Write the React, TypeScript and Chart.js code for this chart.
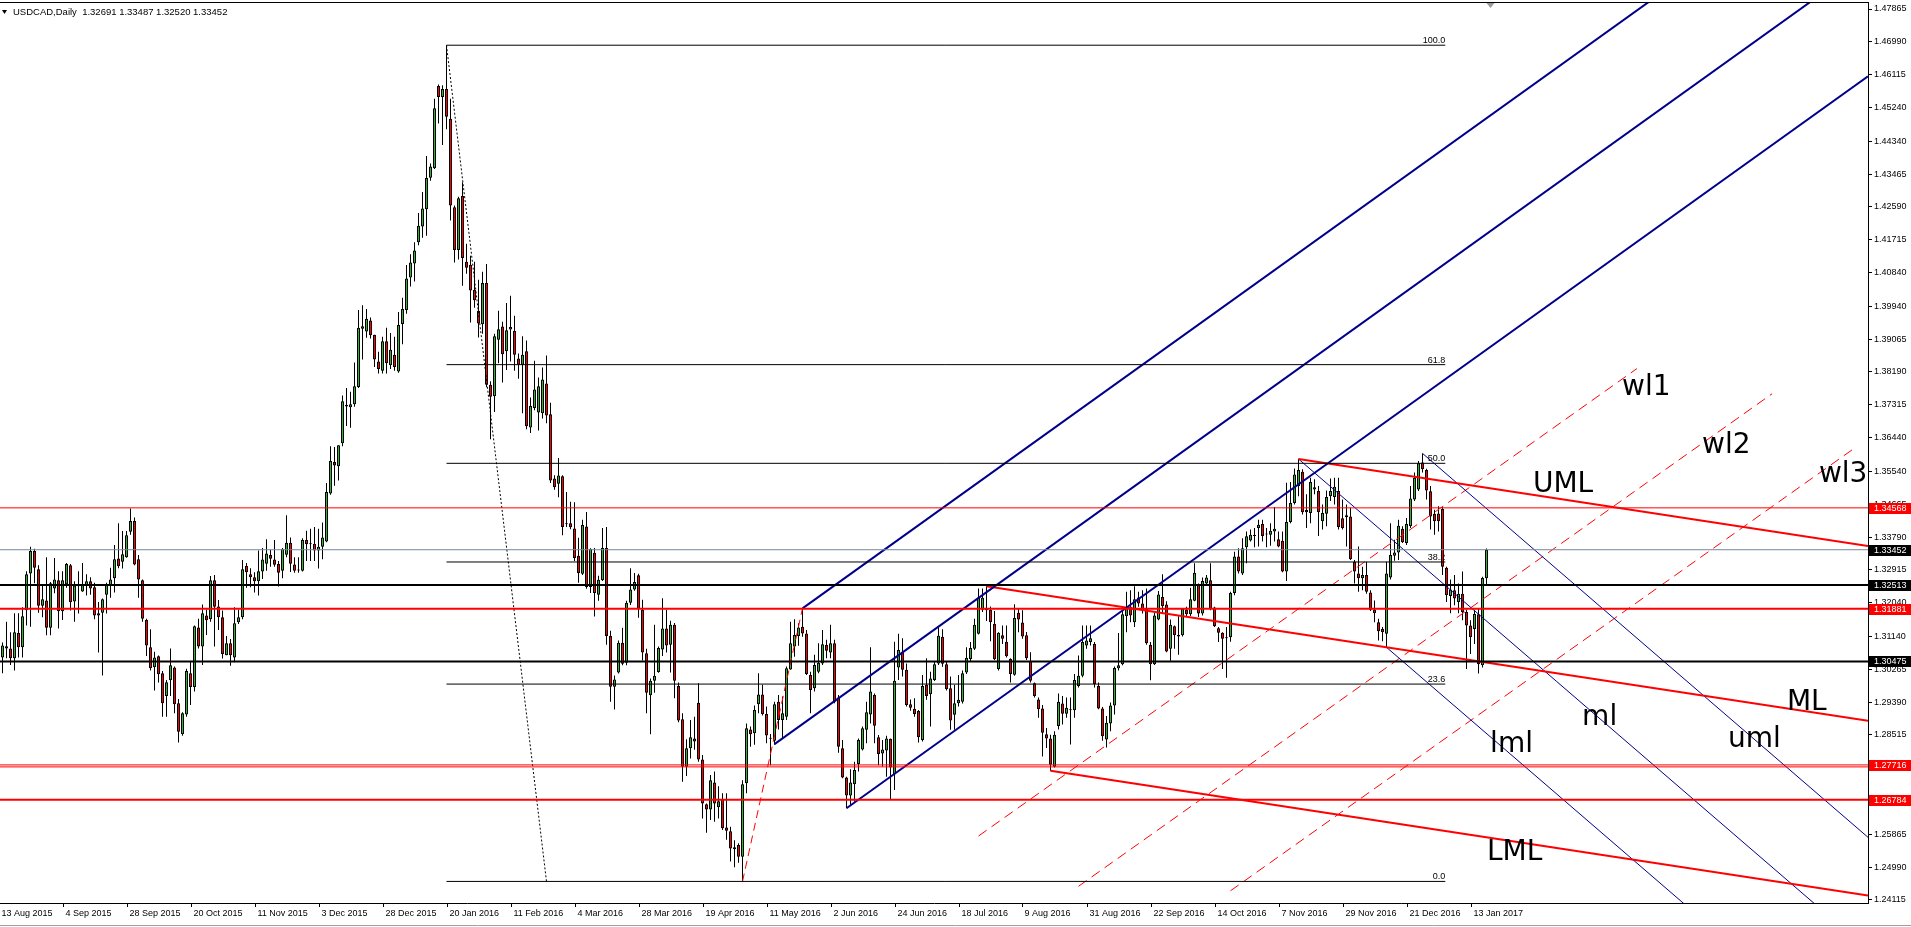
import React, { useEffect, useRef } from 'react';
import { Chart, registerables } from 'chart.js';

Chart.register(...registerables);

// header line of the MT4 window
const TITLE = 'USDCAD,Daily  1.32691 1.33487 1.32520 1.33452';

// time axis: one label every 16 bars, the first one sits one bar left of bar 0
const DATE_TICKS = [
  '13 Aug 2015', '4 Sep 2015', '28 Sep 2015', '20 Oct 2015', '11 Nov 2015', '3 Dec 2015',
  '28 Dec 2015', '20 Jan 2016', '11 Feb 2016', '4 Mar 2016', '28 Mar 2016', '19 Apr 2016',
  '11 May 2016', '2 Jun 2016', '24 Jun 2016', '18 Jul 2016', '9 Aug 2016', '31 Aug 2016',
  '22 Sep 2016', '14 Oct 2016', '7 Nov 2016', '29 Nov 2016', '21 Dec 2016', '13 Jan 2017',
];
const FIRST_TICK_BAR = -1;
const TICK_EVERY = 16;

const PRICE_TICKS = [
  1.24115, 1.24990, 1.25865, 1.26765, 1.27640, 1.28515, 1.29390, 1.30265, 1.31140, 1.32040,
  1.32915, 1.33790, 1.34665, 1.35540, 1.36440, 1.37315, 1.38190, 1.39065, 1.39940, 1.40840,
  1.41715, 1.42590, 1.43465, 1.44340, 1.45240, 1.46115, 1.46990, 1.47865,
];

// daily candles, bar 0 = 14 Aug 2015, last bar = 19 Jan 2017
const OPEN = [
  1.3058, 1.3088, 1.3082, 1.3056, 1.3123, 1.3085, 1.3184, 1.3282, 1.3342, 1.3293,
  1.3196, 1.3210, 1.3137, 1.3242, 1.3264, 1.3181, 1.3253, 1.3304, 1.3207, 1.3248,
  1.3234, 1.3250, 1.3261, 1.3245, 1.3170, 1.3177, 1.3225, 1.3250, 1.3269, 1.3322,
  1.3313, 1.3325, 1.3393, 1.3422, 1.3320, 1.3264, 1.3158, 1.3085, 1.3032, 1.3061,
  1.3016, 1.2955, 1.2997, 1.3031, 1.2936, 1.2853, 1.2906, 1.3016, 1.2979, 1.3138,
  1.3087, 1.3170, 1.3160, 1.3264, 1.3194, 1.3165, 1.3064, 1.3096, 1.3058, 1.3152,
  1.3165, 1.3302, 1.3280, 1.3272, 1.3261, 1.3287, 1.3308, 1.3331, 1.3319, 1.3307,
  1.3289, 1.3332, 1.3364, 1.3306, 1.3290, 1.3289, 1.3371, 1.3361, 1.3361, 1.3343,
  1.3353, 1.3367, 1.3495, 1.3579, 1.3568, 1.3629, 1.3731, 1.3725, 1.3733, 1.3779,
  1.3934, 1.3927, 1.3956, 1.3918, 1.3847, 1.3822, 1.3901, 1.3837, 1.3865, 1.3820,
  1.3947, 1.3984, 1.4071, 1.4108, 1.4165, 1.4207, 1.4253, 1.4337, 1.4362, 1.4581,
  1.4552, 1.4573, 1.4494, 1.4258, 1.4144, 1.4288, 1.4113, 1.4105, 1.4038, 1.3982,
  1.3946, 1.4056, 1.3785, 1.3754, 1.3905, 1.3940, 1.3874, 1.3932, 1.3928, 1.3855,
  1.3838, 1.3874, 1.3671, 1.3723, 1.3711, 1.3709, 1.3788, 1.3706, 1.3535, 1.3521,
  1.3541, 1.3416, 1.3416, 1.3402, 1.3329, 1.3281, 1.3407, 1.3246, 1.3337, 1.3225,
  1.3264, 1.3350, 1.3115, 1.2980, 1.3018, 1.3097, 1.3044, 1.3204, 1.3239, 1.3277,
  1.3185, 1.3069, 1.2957, 1.2996, 1.3019, 1.3079, 1.3135, 1.3092, 1.3145, 1.2982,
  1.2893, 1.2767, 1.2816, 1.2842, 1.2937, 1.2786, 1.2667, 1.2653, 1.2725, 1.2659,
  1.2681, 1.2605, 1.2595, 1.2552, 1.2558, 1.2527, 1.2723, 1.2866, 1.2856, 1.2933,
  1.2959, 1.2907, 1.2844, 1.2836, 1.2940, 1.2891, 1.2900, 1.3026, 1.3087, 1.3115,
  1.3140, 1.3122, 1.3011, 1.2976, 1.3020, 1.3042, 1.3091, 1.3071, 1.3096, 1.2951,
  1.2816, 1.2738, 1.2690, 1.2720, 1.2774, 1.2813, 1.2865, 1.2906, 1.2958, 1.2845,
  1.2802, 1.2810, 1.2841, 1.2747, 1.3031, 1.3072, 1.3025, 1.2933, 1.2921, 1.2915,
  1.2838, 1.2985, 1.2960, 1.2998, 1.3042, 1.3113, 1.3040, 1.2976, 1.2905, 1.2936,
  1.2940, 1.3018, 1.3054, 1.3081, 1.3121, 1.3185, 1.3188, 1.3185, 1.3148, 1.3027,
  1.3117, 1.3100, 1.3054, 1.3012, 1.3177, 1.3151, 1.3117, 1.3048, 1.2989, 1.2946,
  1.2922, 1.2853, 1.2842, 1.2767, 1.2875, 1.2935, 1.2908, 1.2917, 1.2917, 1.2982,
  1.3009, 1.3090, 1.3099, 1.3094, 1.2982, 1.2922, 1.2839, 1.2882, 1.2930, 1.3029,
  1.3040, 1.3168, 1.3193, 1.3152, 1.3218, 1.3202, 1.3188, 1.3092, 1.3040, 1.3159,
  1.3219, 1.3199, 1.3081, 1.3141, 1.3118, 1.3117, 1.3185, 1.3173, 1.3209, 1.3253,
  1.3175, 1.3255, 1.3264, 1.3191, 1.3136, 1.3124, 1.3112, 1.3112, 1.3230, 1.3327,
  1.3282, 1.3352, 1.3370, 1.3383, 1.3403, 1.3414, 1.3387, 1.3385, 1.3394, 1.3373,
  1.3369, 1.3287, 1.3419, 1.3470, 1.3515, 1.3553, 1.3451, 1.3443, 1.3506, 1.3502,
  1.3421, 1.3441, 1.3488, 1.3486, 1.3502, 1.3429, 1.3432, 1.3434, 1.3313, 1.3282,
  1.3269, 1.3278, 1.3231, 1.3186, 1.3152, 1.3134, 1.3121, 1.3271, 1.3329, 1.3338,
  1.3401, 1.3363, 1.3408, 1.3479, 1.3506, 1.3578, 1.3558, 1.3501, 1.3441, 1.3442,
  1.3454, 1.3297, 1.3222, 1.3237, 1.3206, 1.3228, 1.3179, 1.3143, 1.3134, 1.3173,
  1.3037, 1.32691,
];

const HIGH = [
  1.3098, 1.3153, 1.3125, 1.3176, 1.3176, 1.3192, 1.3288, 1.3353, 1.3348, 1.3304,
  1.3249, 1.3325, 1.3259, 1.3323, 1.3288, 1.3288, 1.3310, 1.3307, 1.3261, 1.3288,
  1.3310, 1.3280, 1.3272, 1.3257, 1.3206, 1.3215, 1.3257, 1.3297, 1.3358, 1.3416,
  1.3395, 1.3395, 1.3455, 1.3431, 1.3331, 1.3266, 1.3161, 1.3133, 1.3073, 1.3063,
  1.3022, 1.2998, 1.3082, 1.3034, 1.2947, 1.2912, 1.3028, 1.3048, 1.3143, 1.3161,
  1.3199, 1.3186, 1.3275, 1.3278, 1.3211, 1.3183, 1.3115, 1.3107, 1.3192, 1.3186,
  1.3318, 1.3310, 1.3296, 1.3285, 1.3343, 1.3350, 1.3373, 1.3345, 1.3371, 1.3315,
  1.3350, 1.3437, 1.3378, 1.3325, 1.3325, 1.3376, 1.3396, 1.3401, 1.3406, 1.3401,
  1.3418, 1.3523, 1.3621, 1.3619, 1.3624, 1.3756, 1.3776, 1.3766, 1.3844, 1.3984,
  1.3997, 1.3987, 1.3964, 1.3918, 1.3873, 1.3913, 1.3937, 1.3923, 1.3913, 1.3979,
  1.4017, 1.4104, 1.4133, 1.4165, 1.4243, 1.4299, 1.4395, 1.4375, 1.4547, 1.4585,
  1.4583, 1.4690, 1.4547, 1.4263, 1.4286, 1.4325, 1.4161, 1.4129, 1.4113, 1.4065,
  1.4086, 1.4107, 1.3794, 1.3921, 1.3982, 1.3953, 1.4003, 1.4022, 1.3969, 1.3868,
  1.3914, 1.3903, 1.3751, 1.3849, 1.3804, 1.3831, 1.3863, 1.3737, 1.3544, 1.3590,
  1.3544, 1.3499, 1.3473, 1.3472, 1.3377, 1.3425, 1.3446, 1.3349, 1.3350, 1.3276,
  1.3403, 1.3406, 1.3129, 1.3010, 1.3103, 1.3137, 1.3209, 1.3296, 1.3283, 1.3281,
  1.3212, 1.3081, 1.3002, 1.3145, 1.3087, 1.3216, 1.3185, 1.3156, 1.3150, 1.2991,
  1.2909, 1.2840, 1.2891, 1.2900, 1.2989, 1.2798, 1.2669, 1.2745, 1.2754, 1.2715,
  1.2696, 1.2696, 1.2607, 1.2571, 1.2563, 1.2731, 1.2882, 1.2874, 1.2930, 1.3016,
  1.2985, 1.2927, 1.2854, 1.2940, 1.2958, 1.2954, 1.3034, 1.3153, 1.3160, 1.3149,
  1.3189, 1.3131, 1.3020, 1.3065, 1.3096, 1.3131, 1.3105, 1.3145, 1.3105, 1.2958,
  1.2838, 1.2740, 1.2760, 1.2780, 1.2842, 1.2874, 1.2940, 1.3085, 1.2962, 1.2851,
  1.2838, 1.2849, 1.2842, 1.3100, 1.3121, 1.3109, 1.3042, 1.2946, 1.2949, 1.2918,
  1.3011, 1.3056, 1.3020, 1.3047, 1.3140, 1.3133, 1.3047, 1.3007, 1.2985, 1.3011,
  1.3023, 1.3085, 1.3099, 1.3161, 1.3242, 1.3242, 1.3248, 1.3194, 1.3182, 1.3125,
  1.3143, 1.3143, 1.3056, 1.3200, 1.3188, 1.3184, 1.3126, 1.3072, 1.2991, 1.2951,
  1.2931, 1.2870, 1.2852, 1.2861, 1.2962, 1.2955, 1.2951, 1.2951, 1.3014, 1.3063,
  1.3143, 1.3143, 1.3143, 1.3099, 1.2991, 1.2926, 1.2902, 1.2938, 1.3034, 1.3123,
  1.3184, 1.3233, 1.3237, 1.3248, 1.3233, 1.3237, 1.3242, 1.3099, 1.3177, 1.3235,
  1.3280, 1.3208, 1.3159, 1.3143, 1.3168, 1.3190, 1.3193, 1.3244, 1.3309, 1.3255,
  1.3271, 1.3278, 1.3309, 1.3193, 1.3139, 1.3125, 1.3139, 1.3233, 1.3340, 1.3349,
  1.3376, 1.3394, 1.3399, 1.3403, 1.3425, 1.3425, 1.3403, 1.3416, 1.3459, 1.3394,
  1.3394, 1.3524, 1.3526, 1.3562, 1.3587, 1.3560, 1.3493, 1.3537, 1.3533, 1.3515,
  1.3466, 1.3503, 1.3535, 1.3537, 1.3537, 1.3479, 1.3466, 1.3457, 1.3318, 1.3354,
  1.3300, 1.3313, 1.3237, 1.3210, 1.3161, 1.3139, 1.3313, 1.3416, 1.3372, 1.3425,
  1.3408, 1.3430, 1.3515, 1.3551, 1.3582, 1.3602, 1.3561, 1.3515, 1.3452, 1.3461,
  1.3459, 1.3300, 1.3266, 1.3278, 1.3255, 1.3287, 1.3185, 1.3157, 1.3185, 1.3188,
  1.3273, 1.33487,
];

const LOW = [
  1.3016, 1.3056, 1.3038, 1.3023, 1.3058, 1.3058, 1.3143, 1.3140, 1.3256, 1.3177,
  1.3165, 1.3117, 1.3117, 1.3229, 1.3135, 1.3158, 1.3244, 1.3183, 1.3153, 1.3175,
  1.3233, 1.3223, 1.3225, 1.3160, 1.3071, 1.3010, 1.3175, 1.3217, 1.3231, 1.3296,
  1.3295, 1.3324, 1.3385, 1.3304, 1.3217, 1.3153, 1.3062, 1.3023, 1.2970, 1.2991,
  1.2900, 1.2900, 1.2955, 1.2909, 1.2831, 1.2849, 1.2900, 1.2931, 1.2967, 1.3082,
  1.3038, 1.3118, 1.3153, 1.3087, 1.3131, 1.3055, 1.3064, 1.3036, 1.3045, 1.3147,
  1.3160, 1.3244, 1.3245, 1.3231, 1.3223, 1.3267, 1.3289, 1.3300, 1.3300, 1.3247,
  1.3269, 1.3325, 1.3286, 1.3284, 1.3284, 1.3287, 1.3315, 1.3315, 1.3315, 1.3295,
  1.3320, 1.3365, 1.3492, 1.3516, 1.3530, 1.3621, 1.3675, 1.3670, 1.3726, 1.3776,
  1.3852, 1.3910, 1.3908, 1.3832, 1.3815, 1.3815, 1.3815, 1.3827, 1.3822, 1.3817,
  1.3893, 1.3974, 1.4047, 1.4060, 1.4157, 1.4177, 1.4182, 1.4329, 1.4360, 1.4481,
  1.4424, 1.4466, 1.4223, 1.4111, 1.4119, 1.4049, 1.4081, 1.3951, 1.3990, 1.3911,
  1.3921, 1.3778, 1.3640, 1.3712, 1.3842, 1.3791, 1.3824, 1.3847, 1.3822, 1.3801,
  1.3709, 1.3666, 1.3656, 1.3717, 1.3663, 1.3695, 1.3682, 1.3523, 1.3505, 1.3485,
  1.3384, 1.3406, 1.3400, 1.3315, 1.3257, 1.3278, 1.3241, 1.3230, 1.3167, 1.3209,
  1.3262, 1.3092, 1.2940, 1.2919, 1.3015, 1.3037, 1.3037, 1.3198, 1.3236, 1.3164,
  1.3050, 1.2909, 1.2853, 1.2964, 1.3017, 1.3062, 1.3071, 1.3018, 1.2949, 1.2885,
  1.2727, 1.2742, 1.2789, 1.2812, 1.2780, 1.2629, 1.2591, 1.2625, 1.2620, 1.2629,
  1.2598, 1.2572, 1.2514, 1.2499, 1.2511, 1.2461, 1.2696, 1.2820, 1.2825, 1.2909,
  1.2903, 1.2829, 1.2771, 1.2825, 1.2866, 1.2842, 1.2891, 1.3025, 1.3060, 1.3089,
  1.3113, 1.3011, 1.2909, 1.2967, 1.3016, 1.3038, 1.3056, 1.3056, 1.2936, 1.2804,
  1.2736, 1.2656, 1.2665, 1.2674, 1.2754, 1.2810, 1.2829, 1.2882, 1.2829, 1.2771,
  1.2767, 1.2740, 1.2678, 1.2705, 1.2998, 1.3007, 1.2927, 1.2916, 1.2900, 1.2831,
  1.2834, 1.2945, 1.2874, 1.2995, 1.3038, 1.3033, 1.2970, 1.2865, 1.2865, 1.2927,
  1.2935, 1.3014, 1.3048, 1.3078, 1.3119, 1.3179, 1.3155, 1.3101, 1.3051, 1.3023,
  1.3094, 1.3058, 1.2991, 1.3009, 1.3125, 1.3108, 1.3051, 1.2991, 1.2951, 1.2897,
  1.2794, 1.2817, 1.2756, 1.2765, 1.2866, 1.2879, 1.2897, 1.2826, 1.2897, 1.2978,
  1.3005, 1.3081, 1.3090, 1.2978, 1.2920, 1.2836, 1.2818, 1.2861, 1.2906, 1.3023,
  1.3037, 1.3125, 1.3152, 1.3139, 1.3193, 1.3175, 1.3092, 1.2997, 1.3038, 1.3157,
  1.3175, 1.3072, 1.3049, 1.3081, 1.3065, 1.3114, 1.3166, 1.3168, 1.3208, 1.3166,
  1.3170, 1.3251, 1.3184, 1.3139, 1.3099, 1.3027, 1.3004, 1.3100, 1.3224, 1.3282,
  1.3278, 1.3309, 1.3367, 1.3352, 1.3354, 1.3367, 1.3352, 1.3356, 1.3367, 1.3352,
  1.3285, 1.3262, 1.3416, 1.3466, 1.3488, 1.3439, 1.3403, 1.3416, 1.3493, 1.3382,
  1.3399, 1.3408, 1.3475, 1.3466, 1.3399, 1.3399, 1.3354, 1.3318, 1.3255, 1.3233,
  1.3237, 1.3228, 1.3182, 1.3152, 1.3103, 1.3101, 1.3085, 1.3266, 1.3316, 1.3318,
  1.3363, 1.3358, 1.3403, 1.3475, 1.3502, 1.3551, 1.3479, 1.3399, 1.3385, 1.3394,
  1.3278, 1.3206, 1.3176, 1.3197, 1.3176, 1.3157, 1.3027, 1.3067, 1.3094, 1.3015,
  1.3031, 1.32520,
];

const CLOSE = [
  1.3090, 1.3082, 1.3056, 1.3125, 1.3085, 1.3168, 1.3280, 1.3342, 1.3297, 1.3196,
  1.3213, 1.3137, 1.3256, 1.3266, 1.3181, 1.3264, 1.3307, 1.3205, 1.3250, 1.3251,
  1.3253, 1.3261, 1.3242, 1.3170, 1.3176, 1.3213, 1.3251, 1.3266, 1.3320, 1.3301,
  1.3333, 1.3384, 1.3422, 1.3306, 1.3266, 1.3161, 1.3090, 1.3029, 1.3058, 1.3013,
  1.2936, 1.2992, 1.3037, 1.2933, 1.2860, 1.2909, 1.3022, 1.2979, 1.3141, 1.3087,
  1.3176, 1.3157, 1.3264, 1.3193, 1.3165, 1.3067, 1.3096, 1.3064, 1.3149, 1.3165,
  1.3293, 1.3285, 1.3272, 1.3261, 1.3288, 1.3319, 1.3335, 1.3321, 1.3305, 1.3284,
  1.3347, 1.3364, 1.3308, 1.3289, 1.3292, 1.3371, 1.3360, 1.3360, 1.3343, 1.3353,
  1.3378, 1.3499, 1.3582, 1.3570, 1.3624, 1.3741, 1.3727, 1.3733, 1.3781, 1.3937,
  1.3941, 1.3961, 1.3917, 1.3852, 1.3827, 1.3901, 1.3842, 1.3878, 1.3832, 1.3944,
  1.3987, 1.4068, 1.4111, 1.4143, 1.4209, 1.4255, 1.4336, 1.4367, 1.4522, 1.4552,
  1.4573, 1.4499, 1.4263, 1.4144, 1.4282, 1.4123, 1.4097, 1.4036, 1.4010, 1.3948,
  1.4056, 1.3785, 1.3753, 1.3914, 1.3933, 1.3866, 1.3930, 1.3939, 1.3865, 1.3838,
  1.3865, 1.3674, 1.3728, 1.3772, 1.3781, 1.3799, 1.3703, 1.3530, 1.3512, 1.3543,
  1.3406, 1.3413, 1.3405, 1.3323, 1.3283, 1.3411, 1.3246, 1.3347, 1.3230, 1.3265,
  1.3350, 1.3115, 1.2980, 1.2999, 1.3097, 1.3041, 1.3204, 1.3239, 1.3259, 1.3188,
  1.3071, 1.2964, 1.2996, 1.3009, 1.3083, 1.3135, 1.3090, 1.3145, 1.2996, 1.2890,
  1.2767, 1.2816, 1.2845, 1.2834, 1.2786, 1.2669, 1.2653, 1.2731, 1.2669, 1.2675,
  1.2603, 1.2596, 1.2549, 1.2547, 1.2527, 1.2720, 1.2869, 1.2853, 1.2918, 1.2959,
  1.2907, 1.2850, 1.2841, 1.2933, 1.2891, 1.2909, 1.3029, 1.3096, 1.3118, 1.3138,
  1.3122, 1.3014, 1.2971, 1.3038, 1.3044, 1.3093, 1.3076, 1.3096, 1.2940, 1.2820,
  1.2738, 1.2690, 1.2725, 1.2758, 1.2838, 1.2869, 1.2912, 1.2967, 1.2876, 1.2801,
  1.2813, 1.2842, 1.2765, 1.2996, 1.3078, 1.3025, 1.2931, 1.2924, 1.2907, 1.2845,
  1.2982, 1.2955, 1.3002, 1.3040, 1.3116, 1.3041, 1.2973, 1.2890, 1.2936, 1.2945,
  1.3016, 1.3057, 1.3083, 1.3145, 1.3218, 1.3217, 1.3184, 1.3152, 1.3053, 1.3124,
  1.3108, 1.3061, 1.3014, 1.3163, 1.3159, 1.3114, 1.3056, 1.2996, 1.2955, 1.2920,
  1.2857, 1.2842, 1.2772, 1.2852, 1.2940, 1.2908, 1.2924, 1.2920, 1.2998, 1.3009,
  1.3099, 1.3103, 1.3109, 1.2987, 1.2922, 1.2848, 1.2884, 1.2930, 1.3030, 1.3037,
  1.3173, 1.3193, 1.3170, 1.3213, 1.3202, 1.3184, 1.3096, 1.3040, 1.3170, 1.3226,
  1.3195, 1.3074, 1.3145, 1.3117, 1.3114, 1.3188, 1.3173, 1.3213, 1.3284, 1.3175,
  1.3262, 1.3271, 1.3188, 1.3141, 1.3124, 1.3108, 1.3109, 1.3230, 1.3327, 1.3287,
  1.3349, 1.3381, 1.3385, 1.3382, 1.3412, 1.3382, 1.3386, 1.3396, 1.3401, 1.3354,
  1.3287, 1.3419, 1.3470, 1.3546, 1.3558, 1.3445, 1.3445, 1.3526, 1.3512, 1.3445,
  1.3443, 1.3486, 1.3502, 1.3513, 1.3406, 1.3403, 1.3437, 1.3320, 1.3287, 1.3269,
  1.3278, 1.3233, 1.3185, 1.3176, 1.3128, 1.3125, 1.3282, 1.3331, 1.3338, 1.3409,
  1.3365, 1.3414, 1.3482, 1.3537, 1.3576, 1.3560, 1.3503, 1.3434, 1.3421, 1.3421,
  1.3300, 1.3224, 1.3239, 1.3215, 1.3228, 1.3179, 1.3143, 1.3112, 1.3174, 1.3040,
  1.3270, 1.33452,
];

// horizontal levels drawn across the whole chart
const LEVELS = [1.34568, 1.33452, 1.32513, 1.31881, 1.30475, 1.27716, 1.27663, 1.26784];
// levels that get a coloured price tag on the right axis
const TAGGED = [1.34568, 1.33452, 1.32513, 1.31881, 1.30475, 1.27716, 1.26784];

// fibonacci retracement 20 Jan 2016 high -> 3 May 2016 low
const FIB_PRICES = [1.2461, 1.4690];
const FIB_BARS = [111, 360.7];
const FIB_LEVELS = [0, 23.6, 38.2, 50, 61.8, 100];
const FIB_TREND = [[111, 1.4690], [136, 1.2461]];

// andrews pitchforks: [bar, price] pivots (median start, upper, lower)
const BLUE_FORK = [[193, 1.2827], [200, 1.3189], [211, 1.2656]];
const RED_FORK = [[246, 1.3248], [324, 1.3587], [262, 1.2756]];
const THIN_FORK = [[324, 1.3587], [355, 1.3602], [346, 1.3085]];

// dashed warning lines under the blue fork
const WARNING_LINES = [
  [[244, 1.2582], [408.6, 1.3828]],
  [[269, 1.2448], [442.4, 1.3761]],
  [[307, 1.2436], [463, 1.3616]],
];
const RED_HANDLE = [[185, 1.2461], [200, 1.3189]];

const NOTE_TEXT = ['wl1', 'wl2', 'wl3', 'UML', 'ML', 'ml', 'uml', 'lml', 'LML'];
const NOTE_AT = [
  [404.9, 1.37576], [424.9, 1.3603], [454.1, 1.35257], [382.6, 1.34991], [446.1, 1.2918],
  [394.9, 1.2878], [431.4, 1.28193], [371.9, 1.2806], [371.1, 1.25181],
];

const X_MIN = -0.625;
const X_MAX = 466.375;
const Y_MIN = 1.24035;
const Y_MAX = 1.48052;

const GREEN = '#2eb82e';
const RED = '#ff0000';
const NAVY = '#00008b';

function forkTines(pivots: number[][]) {
  const [p1, p2, p3] = pivots;
  const mx = (p2[0] + p3[0]) / 2;
  const my = (p2[1] + p3[1]) / 2;
  const slope = (my - p1[1]) / (mx - p1[0]);
  return pivots.map(([bx, by]) => [[bx, by], [X_MAX, by + slope * (X_MAX - bx)]]);
}

function segment(pts: number[][], color: string, width: number, dash: number[] = []) {
  return {
    type: 'line' as const,
    data: pts.map(([x, y]) => ({ x, y })),
    borderColor: color,
    borderWidth: width,
    borderDash: dash,
    pointRadius: 0,
    pointHoverRadius: 0,
    fill: false,
    tension: 0,
    order: 0,
  };
}

const mtPlugin = {
  id: 'mt4Overlay',
  beforeDatasetsDraw(chart: any) {
    const { ctx, scales: { x, y } } = chart;
    ctx.save();
    ctx.font = "9px 'Liberation Sans', Arial, sans-serif";
    ctx.fillStyle = '#000';
    ctx.textAlign = 'right';
    ctx.textBaseline = 'alphabetic';
    const [lo, hi] = FIB_PRICES;
    FIB_LEVELS.forEach((lv) => {
      const py = y.getPixelForValue(lo + (hi - lo) * lv / 100);
      ctx.fillText(lv.toFixed(1), x.getPixelForValue(FIB_BARS[1]), py - 2);
    });
    ctx.restore();
  },
  afterDatasetsDraw(chart: any) {
    const { ctx, scales: { x, y } } = chart;
    ctx.save();
    ctx.font = "28px 'DejaVu Sans', sans-serif";
    ctx.fillStyle = '#000';
    ctx.textAlign = 'left';
    ctx.textBaseline = 'alphabetic';
    NOTE_TEXT.forEach((t, i) => {
      ctx.fillText(t, x.getPixelForValue(NOTE_AT[i][0]), y.getPixelForValue(NOTE_AT[i][1]));
    });
    ctx.restore();
  },
  afterDraw(chart: any) {
    const { ctx, chartArea, scales: { x, y }, width, height } = chart;
    ctx.save();
    // top border
    ctx.strokeStyle = '#000';
    ctx.lineWidth = 1;
    ctx.beginPath();
    ctx.moveTo(0, chartArea.top + 0.5);
    ctx.lineTo(chartArea.right, chartArea.top + 0.5);
    ctx.stroke();

    // time labels
    ctx.font = "9px 'Liberation Sans', Arial, sans-serif";
    ctx.fillStyle = '#000';
    ctx.textAlign = 'left';
    ctx.textBaseline = 'alphabetic';
    DATE_TICKS.forEach((label, k) => {
      const px = Math.round(x.getPixelForValue(FIRST_TICK_BAR + k * TICK_EVERY)) + 0.5;
      ctx.beginPath();
      ctx.moveTo(px, chartArea.bottom);
      ctx.lineTo(px, chartArea.bottom + 4);
      ctx.stroke();
      ctx.fillText(label, px + 2, chartArea.bottom + 13);
    });

    // price tags on the right axis
    ctx.textBaseline = 'middle';
    TAGGED.forEach((v) => {
      const py = Math.round(y.getPixelForValue(v));
      const isBlack = v === 1.33452 || v === 1.32513 || v === 1.30475;
      ctx.fillStyle = isBlack ? '#000' : RED;
      ctx.fillRect(chartArea.right + 1, py - 5, width - chartArea.right - 1, 11);
      ctx.fillStyle = '#fff';
      ctx.fillText(v.toFixed(5), chartArea.right + 6, py + 0.5);
    });

    // window title
    ctx.fillStyle = '#000';
    ctx.beginPath();
    ctx.moveTo(2, 10);
    ctx.lineTo(7, 10);
    ctx.lineTo(4.5, 14);
    ctx.closePath();
    ctx.fill();
    ctx.font = "9.5px 'Liberation Sans', Arial, sans-serif";
    ctx.textBaseline = 'middle';
    ctx.fillText(TITLE, 13, 12.5);

    // chart shift marker
    const sx = x.getPixelForValue(OPEN.length);
    ctx.fillStyle = '#9a9a9a';
    ctx.beginPath();
    ctx.moveTo(sx - 4, chartArea.top + 1);
    ctx.lineTo(sx + 4, chartArea.top + 1);
    ctx.lineTo(sx, chartArea.top + 6);
    ctx.closePath();
    ctx.fill();

    // window bottom edge
    ctx.strokeStyle = '#a0a0a0';
    ctx.beginPath();
    ctx.moveTo(0, height - 1.5);
    ctx.lineTo(width, height - 1.5);
    ctx.stroke();
    ctx.restore();
  },
};

function App() {
  const chartRef = useRef<HTMLCanvasElement>(null);

  useEffect(() => {
    document.body.style.margin = '0';
    document.body.style.background = '#fff';
    if (!chartRef.current) return;
    const ctx = chartRef.current.getContext('2d');
    if (!ctx) return;

    Chart.defaults.font.family = "'Liberation Sans', Arial, sans-serif";

    const bodies = OPEN.map((o, i) => ({ x: i, y: [Math.min(o, CLOSE[i]), Math.max(o, CLOSE[i])] }));
    const wicks = OPEN.map((_, i) => ({ x: i, y: [LOW[i], HIGH[i]] }));
    const bodyColors = OPEN.map((o, i) => (CLOSE[i] >= o ? GREEN : RED));

    const levelStyles = [
      [RED, 1], ['#778899', 1], ['#000', 2], [RED, 2], ['#000', 2], [RED, 1], [RED, 1], [RED, 2],
    ];
    const levelLines = LEVELS.map((v, i) =>
      segment([[X_MIN, v], [X_MAX, v]], levelStyles[i][0] as string, levelStyles[i][1] as number),
    );

    const [fibLo, fibHi] = FIB_PRICES;
    const fibLines = FIB_LEVELS.map((lv) => {
      const v = fibLo + (fibHi - fibLo) * lv / 100;
      return segment([[FIB_BARS[0], v], [FIB_BARS[1], v]], '#000', 1);
    });

    const overlays = [
      ...levelLines,
      ...fibLines,
      segment(FIB_TREND, '#000', 1, [2, 2]),
      ...forkTines(BLUE_FORK).map((p) => segment(p, NAVY, 2)),
      ...forkTines(RED_FORK).map((p) => segment(p, RED, 2)),
      ...forkTines(THIN_FORK).map((p) => segment(p, NAVY, 1)),
      ...WARNING_LINES.map((p) => segment(p, RED, 1, [10, 6])),
      segment(RED_HANDLE, RED, 1, [8, 5]),
    ];

    const chart = new Chart(ctx, {
      type: 'bar',
      data: {
        datasets: [
          {
            type: 'bar',
            data: bodies as any,
            backgroundColor: bodyColors,
            borderColor: '#000',
            borderWidth: 1,
            borderSkipped: false,
            barThickness: 3,
            minBarLength: 1,
            grouped: false,
            inflateAmount: 0,
            order: 1,
          },
          {
            type: 'bar',
            data: wicks as any,
            backgroundColor: '#000',
            borderWidth: 0,
            barThickness: 1,
            grouped: false,
            inflateAmount: 0,
            order: 2,
          },
          ...(overlays as any[]),
        ],
      },
      options: {
        responsive: false,
        animation: false,
        events: [],
        layout: { padding: { top: 2, left: 0, right: 0, bottom: 0 } },
        plugins: {
          legend: { display: false },
          tooltip: { enabled: false },
        },
        scales: {
          x: {
            type: 'linear',
            min: X_MIN,
            max: X_MAX,
            offset: false,
            grid: { display: false },
            ticks: { display: false },
            border: { display: true, color: '#000', width: 1 },
            afterFit: (s: any) => {
              s.height = 24;
              s.paddingLeft = 0;
              s.paddingRight = 0;
            },
          },
          y: {
            type: 'linear',
            position: 'right',
            min: Y_MIN,
            max: Y_MAX,
            afterBuildTicks: (s: any) => {
              s.ticks = PRICE_TICKS.map((v) => ({ value: v }));
            },
            ticks: {
              autoSkip: false,
              padding: 2,
              color: '#000',
              font: { size: 9 },
              callback: (v: any) => Number(v).toFixed(5),
            },
            grid: { drawOnChartArea: false, drawTicks: true, tickLength: 4, color: '#000' },
            border: { display: true, color: '#000', width: 1 },
            afterFit: (s: any) => {
              s.width = 43;
              s.paddingTop = 0;
              s.paddingBottom = 0;
            },
          },
        },
      } as any,
      plugins: [mtPlugin],
    });

    return () => {
      chart.destroy();
    };
  }, []);

  return (
    <div style={{ width: 1911, height: 927, background: '#fff' }}>
      <canvas ref={chartRef} width={1911} height={927} style={{ display: 'block' }} />
    </div>
  );
}

export default App;
